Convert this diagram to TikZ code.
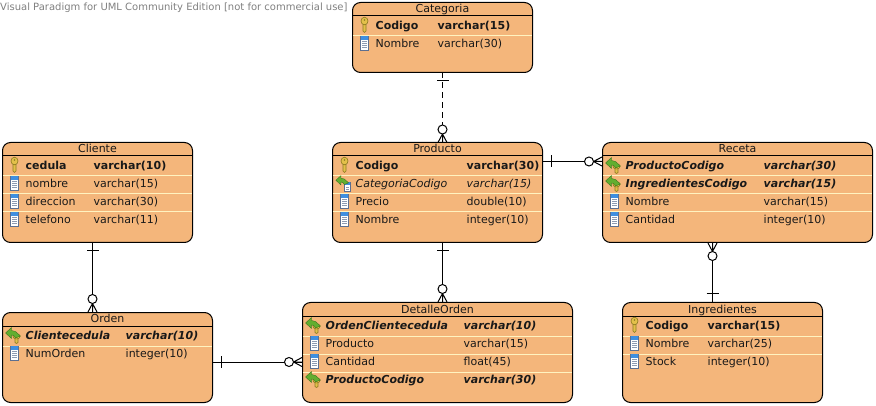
\documentclass[tikz,border=0pt]{standalone}
\usepackage{fontspec}
\setmainfont{DejaVu Sans}
\usetikzlibrary{calc}
\usetikzlibrary{positioning}

\definecolor{boxfill}{HTML}{F4B67B}
\definecolor{rowsep}{HTML}{FFF3C0}
\definecolor{keygold}{HTML}{E3C04A}
\definecolor{keydark}{HTML}{8C7A22}
\definecolor{colblue}{HTML}{3F8FE0}
\definecolor{coledge}{HTML}{5C6F90}
\definecolor{fkgreen}{HTML}{62AE30}
\definecolor{fkdark}{HTML}{2F6A18}

\tikzset{
    tablebox/.style={draw=black, line width=1pt, fill=boxfill, rounded corners=8pt, inner sep=0pt},
    headline/.style={draw=black, line width=1pt},
    rowline/.style={draw=rowsep, line width=1pt},
    celltext/.style={inner sep=0pt, yshift=-1.5pt, text height=8.5pt, text depth=2.5pt, text=black!90, font=\fontsize{11}{13}\selectfont},
    plainrow/.style={celltext, anchor=west},
    keyrow/.style={celltext, anchor=west, font=\fontsize{11}{13}\selectfont\bfseries},
    fkrow/.style={celltext, anchor=west, font=\fontsize{11}{13}\selectfont\bfseries\itshape},
    slantrow/.style={celltext, anchor=west, font=\fontsize{11}{13}\selectfont\itshape},
    titletext/.style={celltext, anchor=center},
    conn/.style={draw=black, line width=1pt},
    keyicon/.pic={
        \fill[keygold, draw=keydark, line width=.6pt] (-1.5,-1) -- (-1.5,6) -- (0,7.5) -- (1.5,6) -- (1.5,-1) -- cycle;
        \fill[keygold, draw=keydark, line width=.6pt] (0,-4) ellipse (3.5 and 3.8);
        \fill[keydark] (0,-5) circle (.9);
    },
    colicon/.pic={
        \fill[white, draw=coledge, line width=.7pt] (-4,-7) rectangle (4,7);
        \fill[colblue] (-3.7,-6.7) rectangle (3.7,-3.2);
        \foreach \l in {-1.5,.5,2.5,4.5} \draw[coledge!70, line width=.6pt] (-2.5,\l) -- (2.5,\l);
    },
    fkarrow/.pic={
        \fill[fkgreen, draw=fkdark, line width=.3pt] (-9,-2) -- (-3,-7.5) -- (-3,-4.5) -- (1,-3.5) -- (6,1) -- (1,3) -- (-1,.5) -- (-3,0) -- (-3,3.5) -- cycle;
    },
    fkicon/.pic={
        \fill[keygold, draw=keydark, line width=.6pt] (.5,3) -- (.5,7.5) -- (2,8.5) -- (3.5,7.5) -- (3.5,3) -- cycle;
        \fill[keygold, draw=keydark, line width=.6pt] (2,1.5) ellipse (3.5 and 2.5);
        \pic {fkarrow};
    },
    fkcolicon/.pic={
        \fill[white, draw=coledge, line width=.7pt] (0,-1) rectangle (6,8);
        \fill[colblue] (.3,-.7) rectangle (5.7,2);
        \foreach \l in {4,6} \draw[coledge!70, line width=.6pt] (1.5,\l) -- (4.5,\l);
        \pic[scale=.85] at (-1,-1) {fkarrow};
    },
    % table edge is the origin, +x points away from the table
    crowfoot/.pic={
        \draw[conn] (8.5,0) -- (0,-4.5) (8.5,0) -- (0,4.5) (8.5,0) -- (0,0);
        \draw[conn, fill=white] (13,0) circle (4.5);
    },
    onebar/.pic={
        \draw[conn] (8,-6) -- (8,6);
    }
}

\begin{document}
\begin{tikzpicture}[x=1pt, y=-1pt]
    \useasboundingbox (0,0) rectangle (876,406);

    \node[celltext, anchor=west, text=black!50, font=\fontsize{10}{12}\selectfont] (watermark) at (0,6) {Visual Paradigm for UML Community Edition [not for commercial use]};

    % connectors go first
    \draw[conn, dashed, dash pattern=on 6pt off 4pt] (442.5,72.5) coordinate (catdown) -- (catdown |- 0,142.5) coordinate (produp);
    \pic[rotate=-90] at (catdown) {onebar};
    \pic[rotate=90] at (produp) {crowfoot};

    \node[tablebox, minimum width=180pt, minimum height=70pt] (categoria) at (442.5,37.5) {};
    \draw[headline] ($(categoria.north west)+(0,14)$) -- ++(180,0);
    \node[titletext] (categoria-title) at ($(categoria.north)+(0,6.5)$) {Categoria};
    \draw[rowline] ($(categoria.north west)+(.5,34)$) -- ++(179,0);
    \foreach \i/\ic/\sty/\nm/\tp in {1/keyicon/keyrow/Codigo/varchar(15), 2/colicon/plainrow/Nombre/varchar(30)} {
        \pic at ($(categoria.north west)+(12.5,\i*18+5)$) {\ic};
        \node[\sty] (categoria-n\i) at ($(categoria.north west)+(23.5,\i*18+5)$) {\nm};
        \node[\sty] (categoria-t\i) at ($(categoria.north west)+(85.5,\i*18+5)$) {\tp};
    }

    \node[tablebox, minimum width=210pt, minimum height=100pt] (producto) at (437.5,192.5) {};
    \draw[headline] ($(producto.north west)+(0,14)$) -- ++(210,0);
    \node[titletext] (producto-title) at ($(producto.north)+(0,6.5)$) {Producto};
    \foreach \i in {1,2,3} \draw[rowline] ($(producto.north west)+(.5,\i*18+16)$) -- ++(209,0);
    \foreach \i/\ic/\sty/\nm/\tp in {1/keyicon/keyrow/Codigo/varchar(30), 2/fkcolicon/slantrow/CategoriaCodigo/varchar(15), 3/colicon/plainrow/Precio/double(10), 4/colicon/plainrow/Nombre/integer(10)} {
        \pic at ($(producto.north west)+(12.5,\i*18+5)$) {\ic};
        \node[\sty] (producto-n\i) at ($(producto.north west)+(23.5,\i*18+5)$) {\nm};
        \node[\sty] (producto-t\i) at ($(producto.north west)+(134.5,\i*18+5)$) {\tp};
    }

    \node[tablebox, minimum width=190pt, minimum height=100pt] (cliente) at (97.5,192.5) {};
    \draw[headline] ($(cliente.north west)+(0,14)$) -- ++(190,0);
    \node[titletext] (cliente-title) at ($(cliente.north)+(0,6.5)$) {Cliente};
    \foreach \i in {1,2,3} \draw[rowline] ($(cliente.north west)+(.5,\i*18+16)$) -- ++(189,0);
    \foreach \i/\ic/\sty/\nm/\tp in {1/keyicon/keyrow/cedula/varchar(10), 2/colicon/plainrow/nombre/varchar(15), 3/colicon/plainrow/direccion/varchar(30), 4/colicon/plainrow/telefono/varchar(11)} {
        \pic at ($(cliente.north west)+(12.5,\i*18+5)$) {\ic};
        \node[\sty] (cliente-n\i) at ($(cliente.north west)+(23.5,\i*18+5)$) {\nm};
        \node[\sty] (cliente-t\i) at ($(cliente.north west)+(91.5,\i*18+5)$) {\tp};
    }

    \node[tablebox, minimum width=270pt, minimum height=100pt] (receta) at (737.5,192.5) {};
    \draw[headline] ($(receta.north west)+(0,14)$) -- ++(270,0);
    \node[titletext] (receta-title) at ($(receta.north)+(0,6.5)$) {Receta};
    \foreach \i in {1,2,3} \draw[rowline] ($(receta.north west)+(.5,\i*18+16)$) -- ++(269,0);
    \foreach \i/\ic/\sty/\nm/\tp in {1/fkicon/fkrow/ProductoCodigo/varchar(30), 2/fkicon/fkrow/IngredientesCodigo/varchar(15), 3/colicon/plainrow/Nombre/varchar(15), 4/colicon/plainrow/Cantidad/integer(10)} {
        \pic at ($(receta.north west)+(12.5,\i*18+5)$) {\ic};
        \node[\sty] (receta-n\i) at ($(receta.north west)+(23.5,\i*18+5)$) {\nm};
        \node[\sty] (receta-t\i) at ($(receta.north west)+(161.5,\i*18+5)$) {\tp};
    }

    \node[tablebox, minimum width=210pt, minimum height=90pt] (orden) at (107.5,357.5) {};
    \draw[headline] ($(orden.north west)+(0,14)$) -- ++(210,0);
    \node[titletext] (orden-title) at ($(orden.north)+(0,6.5)$) {Orden};
    \draw[rowline] ($(orden.north west)+(.5,34)$) -- ++(209,0);
    \foreach \i/\ic/\sty/\nm/\tp in {1/fkicon/fkrow/Clientecedula/varchar(10), 2/colicon/plainrow/NumOrden/integer(10)} {
        \pic at ($(orden.north west)+(12.5,\i*18+5)$) {\ic};
        \node[\sty] (orden-n\i) at ($(orden.north west)+(23.5,\i*18+5)$) {\nm};
        \node[\sty] (orden-t\i) at ($(orden.north west)+(123.5,\i*18+5)$) {\tp};
    }

    \node[tablebox, minimum width=270pt, minimum height=100pt] (detalle) at (437.5,352.5) {};
    \draw[headline] ($(detalle.north west)+(0,14)$) -- ++(270,0);
    \node[titletext] (detalle-title) at ($(detalle.north)+(0,6.5)$) {DetalleOrden};
    \foreach \i in {1,2,3} \draw[rowline] ($(detalle.north west)+(.5,\i*18+16)$) -- ++(269,0);
    \foreach \i/\ic/\sty/\nm/\tp in {1/fkicon/fkrow/OrdenClientecedula/varchar(10), 2/colicon/plainrow/Producto/varchar(15), 3/colicon/plainrow/Cantidad/float(45), 4/fkicon/fkrow/ProductoCodigo/varchar(30)} {
        \pic at ($(detalle.north west)+(12.5,\i*18+5)$) {\ic};
        \node[\sty] (detalle-n\i) at ($(detalle.north west)+(23.5,\i*18+5)$) {\nm};
        \node[\sty] (detalle-t\i) at ($(detalle.north west)+(161.5,\i*18+5)$) {\tp};
    }

    \node[tablebox, minimum width=200pt, minimum height=100pt] (ingredientes) at (722.5,352.5) {};
    \draw[headline] ($(ingredientes.north west)+(0,14)$) -- ++(200,0);
    \node[titletext] (ingredientes-title) at ($(ingredientes.north)+(0,6.5)$) {Ingredientes};
    \foreach \i in {1,2} \draw[rowline] ($(ingredientes.north west)+(.5,\i*18+16)$) -- ++(199,0);
    \foreach \i/\ic/\sty/\nm/\tp in {1/keyicon/keyrow/Codigo/varchar(15), 2/colicon/plainrow/Nombre/varchar(25), 3/colicon/plainrow/Stock/integer(10)} {
        \pic at ($(ingredientes.north west)+(12.5,\i*18+5)$) {\ic};
        \node[\sty] (ingredientes-n\i) at ($(ingredientes.north west)+(23.5,\i*18+5)$) {\nm};
        \node[\sty] (ingredientes-t\i) at ($(ingredientes.north west)+(85.5,\i*18+5)$) {\tp};
    }

    % relations
    \draw[conn] ([yshift=-19.5pt]producto.north east) -- ([yshift=-19.5pt]receta.north west);
    \pic at ([yshift=-19.5pt]producto.north east) {onebar};
    \pic[rotate=180] at ([yshift=-19.5pt]receta.north west) {crowfoot};

    \draw[conn] ([xshift=-5pt]cliente.south) -- ([xshift=-15pt]orden.north);
    \pic[rotate=-90] at ([xshift=-5pt]cliente.south) {onebar};
    \pic[rotate=90] at ([xshift=-15pt]orden.north) {crowfoot};

    \draw[conn] ([xshift=5pt]producto.south) -- ([xshift=5pt]detalle.north);
    \pic[rotate=-90] at ([xshift=5pt]producto.south) {onebar};
    \pic[rotate=90] at ([xshift=5pt]detalle.north) {crowfoot};

    \draw[conn] ([yshift=-4.5pt]orden.east) -- ([yshift=-9.5pt]detalle.east -| detalle.west);
    \pic at ([yshift=-4.5pt]orden.east) {onebar};
    \pic[rotate=180] at ([yshift=-9.5pt]detalle.east -| detalle.west) {crowfoot};

    \draw[conn] ([xshift=-25pt]receta.south) -- ([xshift=-10pt]ingredientes.north);
    \pic[rotate=-90] at ([xshift=-25pt]receta.south) {crowfoot};
    \pic[rotate=90] at ([xshift=-10pt]ingredientes.north) {onebar};
\end{tikzpicture}
\end{document}
